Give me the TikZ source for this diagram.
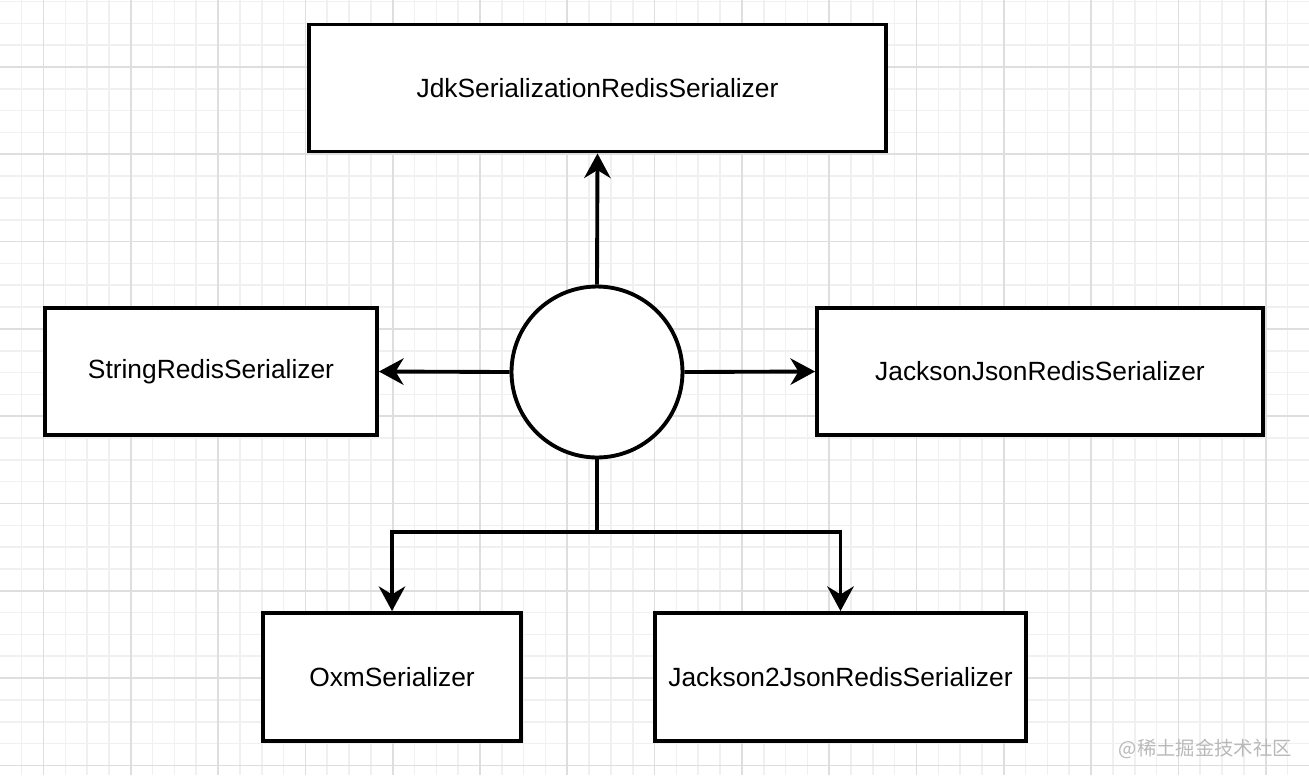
\documentclass[tikz,border=0pt]{standalone}
\usepackage{fontspec}
\setmainfont{Liberation Sans}
\newfontfamily\cjkfont{Noto Sans CJK SC}
\usetikzlibrary{arrows.meta}
\definecolor{gridminor}{RGB}{240,240,240}
\definecolor{gridmajor}{RGB}{222,222,222}
\definecolor{markgray}{RGB}{185,185,185}
\tikzset{
  serbox/.style={draw, line width=2.2pt, fill=white, inner sep=0pt,
                 font=\fontsize{15}{18}\selectfont},
  hub/.style={draw, circle, line width=2.2pt, fill=white, inner sep=0pt,
              minimum size=3.42cm},
  link/.style={line width=2.2pt, -{Stealth[length=14pt,width=15pt,inset=4.5pt]}},
  minorline/.style={draw=gridminor, line width=0.9pt},
  majorline/.style={draw=gridmajor, line width=1pt}
}

\begin{document}
\begin{tikzpicture}[x=0.02cm, y=-0.02cm]
% Canvas and grid
\fill[white] (0,0) rectangle (1309,775);
\useasboundingbox (0,0) rectangle (1309,775);
\foreach \i in {-1,...,57}
  \draw[minorline] ({43.5+21.825*\i},0) -- ({43.5+21.825*\i},775);
\foreach \j in {-3,...,32}
  \draw[minorline] (0,{67+21.825*\j}) -- (1309,{67+21.825*\j});
\foreach \i in {0,...,14}
  \draw[majorline] ({43.5+87.3*\i},0) -- ({43.5+87.3*\i},775);
\foreach \j in {0,...,8}
  \draw[majorline] (0,{67+87.3*\j}) -- (1309,{67+87.3*\j});
% Serializer boxes
\node[serbox, minimum width=11.54cm, minimum height=2.54cm] (jdk) at (597.5,88)
  {JdkSerializationRedisSerializer};
\node[serbox, minimum width=6.64cm, minimum height=2.54cm] (str) at (211,371.5)
  {StringRedisSerializer};
\node[serbox, minimum width=8.92cm, minimum height=2.54cm] (jackson) at (1040,371.5)
  {JacksonJsonRedisSerializer};
\node[serbox, minimum width=5.16cm, minimum height=2.56cm] (oxm) at (392,677)
  {OxmSerializer};
\node[serbox, minimum width=7.42cm, minimum height=2.56cm] (jackson2) at (840.5,677)
  {Jackson2JsonRedisSerializer};
% Interface circle
\node[hub] (redis) at (597,372) {};
% Arrows
\draw[link] (redis.north) -- (jdk.south);
\draw[link] (redis.west) -- (str.east);
\draw[link] (redis.east) -- (jackson.west);
\draw[line width=2.2pt] (redis.south) -- ++(0,73) coordinate (split);
\draw[link] (split) -| (oxm.north);
\draw[link] (split) -| (jackson2.north);
% Watermark
\node[font=\cjkfont\fontsize{11}{13}\selectfont, text=markgray, anchor=east] (mark)
  at (1298,749) {@稀土掘金技术社区};
\end{tikzpicture}
\end{document}
